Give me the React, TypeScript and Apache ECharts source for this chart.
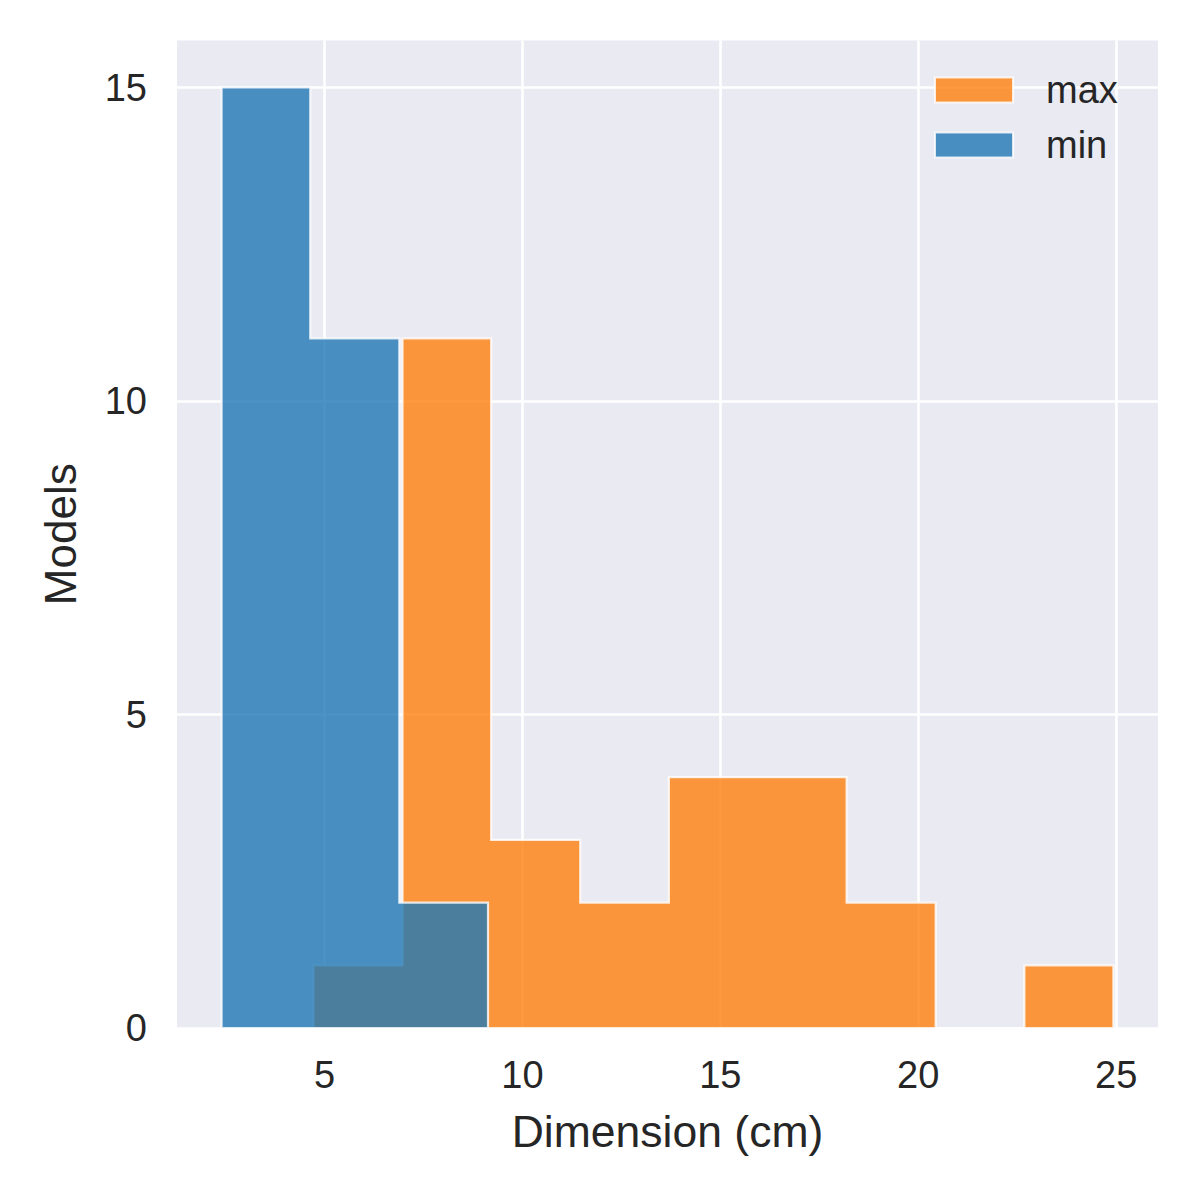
import React, { useEffect, useRef } from "react";
import * as echarts from "echarts";

// Histogram bin edges (cm) and counts
const minEdges = [2.4, 4.64, 6.89, 9.13];
const minCounts = [15, 11, 2];
const maxEdges = [4.72, 6.97, 9.21, 11.46, 13.7, 15.95, 18.19, 20.44, 22.68, 24.93];
const maxCounts = [1, 11, 3, 2, 4, 4, 2, 0, 1];
const seriesNames = ["max", "min"];
const xTicks = [5, 10, 15, 20, 25];
const yTicks = [0, 5, 10, 15];
const xLabel = "Dimension (cm)";
const yLabel = "Models";

const ORANGE = "rgba(255,127,14,0.8)";
const BLUE = "rgba(31,119,180,0.8)";
const EDGE = "rgba(255,255,255,0.8)";
const TEXT = "#262626";
const FONT = "'Liberation Sans', Arial, sans-serif";

function toBins(edges: number[], counts: number[]) {
  return counts.map((c, i) => [edges[i], edges[i + 1], c]);
}

function histSeries(name: string, edges: number[], counts: number[], color: string) {
  return {
    type: "custom",
    name,
    data: toBins(edges, counts),
    encode: { x: [0, 1], y: 2 },
    itemStyle: { color, borderColor: EDGE, borderWidth: 2 },
    renderItem: (params: any, api: any) => {
      if (params.dataIndex !== 0) return null;
      const pts: number[][] = [];
      pts.push(api.coord([edges[0], 0]));
      counts.forEach((c, i) => {
        pts.push(api.coord([edges[i], c]));
        pts.push(api.coord([edges[i + 1], c]));
      });
      pts.push(api.coord([edges[edges.length - 1], 0]));
      return {
        type: "polygon",
        shape: { points: pts },
        style: { fill: color, stroke: EDGE, lineWidth: 2.2, lineJoin: "miter" },
      };
    },
  };
}

export default function App() {
  const ref = useRef<HTMLDivElement>(null);
  useEffect(() => {
    if (!ref.current) return;
    const chart = echarts.init(ref.current, undefined, { renderer: "svg" });
    const allEdges = [...minEdges, ...maxEdges];
    const lo = Math.min(...allEdges);
    const hi = Math.max(...allEdges);
    const pad = (hi - lo) * 0.05;
    const yMax = Math.max(...minCounts, ...maxCounts) * 1.05;
    chart.setOption({
      animation: false,
      backgroundColor: "#ffffff",
      textStyle: { fontFamily: FONT },
      grid: {
        show: true,
        backgroundColor: "#eaeaf2",
        borderWidth: 0,
        left: 177,
        right: 38,
        top: 40.5,
        bottom: 168,
      },
      legend: {
        data: seriesNames,
        orient: "vertical",
        left: 929,
        top: 66,
        itemWidth: 78,
        itemHeight: 25,
        itemGap: 17,
        icon: "rect",
        itemStyle: { borderColor: EDGE, borderWidth: 2 },
        textStyle: {
          fontSize: 38,
          color: TEXT,
          fontFamily: FONT,
          padding: [0, 0, 0, 28],
        },
      },
      xAxis: {
        type: "value",
        min: lo - pad,
        max: hi + pad,
        name: xLabel,
        nameLocation: "middle",
        nameGap: 81,
        nameTextStyle: { fontSize: 44.5, color: TEXT, fontFamily: FONT },
        axisLine: { show: false },
        axisTick: { show: false, customValues: xTicks },
        axisLabel: {
          customValues: xTicks,
          fontSize: 38,
          color: TEXT,
          margin: 28,
          fontFamily: FONT,
        },
        splitLine: { show: true, lineStyle: { color: "#ffffff", width: 2.6 } },
      },
      yAxis: {
        type: "value",
        min: 0,
        max: yMax,
        name: yLabel,
        nameLocation: "middle",
        nameGap: 95,
        nameRotate: 90,
        nameTextStyle: { fontSize: 44, color: TEXT, fontFamily: FONT },
        axisLine: { show: false },
        axisTick: { show: false, customValues: yTicks },
        axisLabel: {
          customValues: yTicks,
          fontSize: 38,
          color: TEXT,
          margin: 30,
          fontFamily: FONT,
        },
        splitLine: { show: true, lineStyle: { color: "#ffffff", width: 2.6 } },
      },
      series: [
        histSeries(seriesNames[0], maxEdges, maxCounts, ORANGE),
        histSeries(seriesNames[1], minEdges, minCounts, BLUE),
      ],
    });
    return () => chart.dispose();
  }, []);
  return (
    <div
      ref={ref}
      style={{ position: "fixed", left: 0, top: 0, width: 1196, height: 1196, background: "#fff" }}
    />
  );
}
